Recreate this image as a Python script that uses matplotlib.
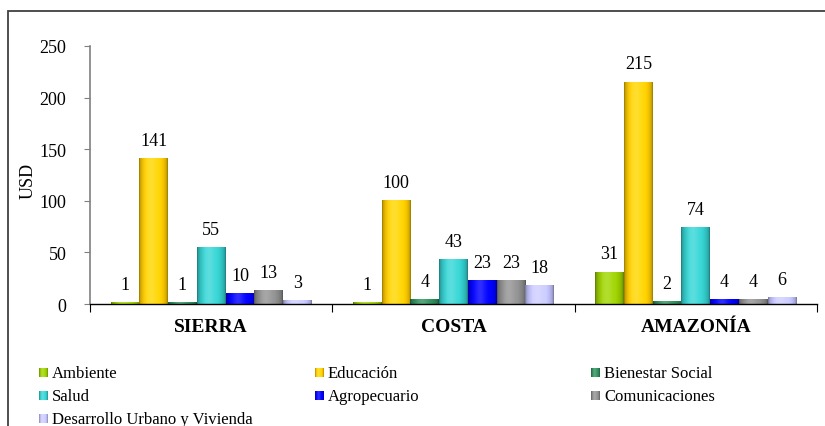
import numpy as np
import matplotlib
matplotlib.use("Agg")
import matplotlib.pyplot as plt
from matplotlib.colors import to_rgb

# --- data -------------------------------------------------------------
regions = ["SIERRA", "COSTA", "AMAZONÍA"]
sectors = ["Ambiente", "Educación", "Bienestar Social", "Salud",
           "Agropecuario", "Comunicaciones", "Desarrollo Urbano y Vivienda"]
ambiente = [1, 1, 31]
educacion = [141, 100, 215]
bienestar = [1, 4, 2]
salud = [55, 43, 74]
agropecuario = [10, 23, 4]
comunicaciones = [13, 23, 4]
desarrollo = [3, 18, 6]
series = [ambiente, educacion, bienestar, salud, agropecuario,
          comunicaciones, desarrollo]
colors = ["#99cc00", "#ffcc00", "#2e8b5a", "#33cccc", "#0000ff",
          "#8c8c8c", "#c4c4ff"]
yticks = [0, 50, 100, 150, 200, 250]

W, H = 825, 427
plt.rcParams["font.family"] = ["Liberation Serif", "DejaVu Serif"]

fig = plt.figure(figsize=(W / 100, H / 100), dpi=100)
ax = fig.add_axes([90 / W, 122 / H, 727 / W, 258 / H])


def cylinder(color, n=64):
    """Horizontal shading that gives a bar a rounded, cylinder look."""
    base = np.array(to_rgb(color))
    t = np.linspace(0, 1, n)
    shade = 0.55 + 0.55 * np.sin(np.pi * t) ** 0.4
    shade = np.minimum(shade, 1.05)
    img = np.clip(base[None, :] * shade[:, None], 0, 1)
    glow = np.exp(-((t - 0.42) / 0.2) ** 2) * 0.18
    img = img + (1 - img) * glow[:, None]
    return img[None, :, :]


n = len(series)
width = 0.1186
x = np.arange(len(regions))
for i, (vals, col) in enumerate(zip(series, colors)):
    offs = x + (i - (n - 1) / 2) * width
    bars = ax.bar(offs, vals, width=width, color=col, linewidth=0,
                  label=sectors[i], zorder=2)
    grad = cylinder(col)
    for rect, v in zip(bars, vals):
        x0 = rect.get_x()
        ax.imshow(grad, extent=(x0, x0 + width, 0, v), aspect="auto",
                  interpolation="bilinear", zorder=3)
        ax.annotate(str(v), (rect.get_x() + width / 2, v),
                    xytext=(0, 7), textcoords="offset points",
                    ha="center", va="bottom", fontsize=13)

ax.set_xlim(-0.5, len(regions) - 0.5)
ax.set_ylim(0, 250)
ax.set_aspect("auto")

# axis styling
for s in ("top", "right"):
    ax.spines[s].set_visible(False)
ax.spines["left"].set_color("#808080")
ax.spines["left"].set_linewidth(1.2)
ax.spines["bottom"].set_color("black")
ax.spines["bottom"].set_linewidth(1.0)
ax.spines["bottom"].set_zorder(4)

ax.set_yticks(yticks)
ax.set_yticklabels([str(v) for v in yticks], fontsize=13)
ax.tick_params(axis="y", length=4, color="#808080", pad=13)

ax.set_xticks(np.arange(len(regions) + 1) - 0.5)
ax.set_xticklabels([])
ax.tick_params(axis="x", which="major", length=6, color="black")
ax.set_xticks(x, minor=True)
ax.set_xticklabels(regions, minor=True, fontsize=14, fontweight="bold")
ax.tick_params(axis="x", which="minor", length=0, pad=10)

ax.set_ylabel("USD", fontsize=13, va="center")
ax.yaxis.set_label_coords(-0.085, 0.48)

# overlay in pixel coordinates for the frame and the legend
ov = fig.add_axes([0, 0, 1, 1], zorder=5)
ov.axis("off")
ov.plot([8, 8, W + 5], [H + 5, 12, 12], color="#404040", lw=1.3,
        solid_joinstyle="miter")

col_x = [39, 315, 591]
row_y = [374, 397, 420]
for i, (name, col) in enumerate(zip(sectors, colors)):
    cx = col_x[i % 3]
    cy = row_y[i // 3]
    ov.imshow(cylinder(col), extent=(cx, cx + 9, cy + 4.5, cy - 4.5),
              aspect="auto", interpolation="bilinear")
    ov.text(cx + 13, cy, name, fontsize=12, va="center", ha="left")
ov.set_xlim(0, W)
ov.set_ylim(H, 0)
ov.set_aspect("auto")

fig.savefig("out.png", dpi=100)
